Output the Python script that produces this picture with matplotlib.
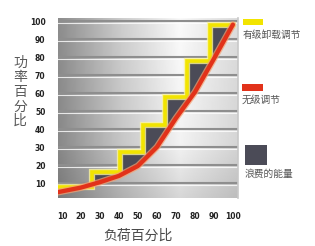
import numpy as np
import matplotlib
matplotlib.use("Agg")
import matplotlib.pyplot as plt
import matplotlib.patheffects as pe
from matplotlib.patches import Rectangle

plt.rcParams['font.family'] = ['Noto Sans CJK SC', 'DejaVu Sans']

# step (load/unload) regulation: step edges and levels
step_x = [8, 26, 40.5, 52.5, 64, 76, 88, 100]
step_y = [8, 16, 27, 42, 58, 78, 98]

# stepless regulation curve
load = [8, 20, 30, 40, 50, 60, 70, 80, 90, 100]
power = [5, 7.5, 10.5, 14, 19.5, 30, 46, 60.5, 79, 98]

ticks = [10, 20, 30, 40, 50, 60, 70, 80, 90, 100]
legend_labels = ["有级卸载调节", "无级调节", "浪费的能量"]

YELLOW = "#f2e400"
RED = "#e2321a"
WASTE = "#4b4b57"

fig = plt.figure(figsize=(3.15, 2.46), dpi=100)
ax = fig.add_axes([0.184, 0.195, 0.571, 0.732])
xlim = (7.9, 102.6)
ylim = (1.7, 101.7)

# gradient background
gx = np.linspace(0, 1, 200)
horiz = np.interp(gx, [0, 0.35, 0.68, 1.0], [0.55, 0.8, 0.98, 0.86])
gy = np.linspace(0, 1, 120)[:, None]
vert = np.interp(gy, [0, 0.3, 1.0], [0.86, 0.97, 1.0])
bg = np.clip(horiz[None, :] * vert, 0, 1)
ax.imshow(bg, extent=[xlim[0], xlim[1], ylim[0], ylim[1]], origin="lower",
          aspect="auto", cmap="gray", vmin=0, vmax=1, zorder=0)

# grid lines with a light highlight underneath
for t in ticks:
    ax.axhline(t, color="#8e8e8e", lw=1.5, zorder=1)
    ax.axhline(t - 1.0, color="white", lw=0.8, alpha=0.8, zorder=1)

# wasted energy area between the staircase and the curve
sx, sy = [], []
for i in range(len(step_y)):
    sx += [step_x[i], step_x[i + 1]]
    sy += [step_y[i], step_y[i]]
poly_x = sx + load[::-1]
poly_y = sy + power[::-1]
ax.fill(poly_x, poly_y, color=WASTE, zorder=2, lw=0)

ax.step(step_x, step_y + [step_y[-1]], where="post", color=YELLOW, lw=2.6, zorder=3,
        solid_joinstyle="miter",
        path_effects=[pe.Stroke(linewidth=4.5, foreground="#fbf49a", alpha=0.8), pe.Normal()])
ax.plot(load, power, color=RED, lw=3.1, zorder=4, solid_capstyle="round",
        path_effects=[pe.Stroke(linewidth=4.9, foreground="#f6a070", alpha=0.7), pe.Normal()])

ax.set_xlim(*xlim)
ax.set_ylim(*ylim)
ax.set_xticks(ticks)
ax.set_yticks(ticks)
ax.set_xticklabels([str(t) for t in ticks], fontsize=5.5, fontweight="bold",
                   family="DejaVu Sans", color="#222222")
ax.set_yticklabels([str(t) for t in ticks], fontsize=5.5, fontweight="bold",
                   family="DejaVu Sans", color="#222222")
ax.tick_params(axis="y", length=0, pad=9)
ax.tick_params(axis="x", length=0, pad=10)
for side in ["top", "left", "bottom"]:
    ax.spines[side].set_visible(False)
ax.spines["right"].set_color("#c8c8c8")
ax.spines["right"].set_linewidth(1.2)

fig.text(138 / 315, 1 - 236 / 246, "负荷百分比", ha="center", va="center",
         fontsize=10, color="#4a4a4a")
fig.text(20 / 315, 1 - 92 / 246, "功\n率\n百\n分\n比", ha="center", va="center",
         fontsize=10, color="#5a5a5a", linespacing=1.05)

# legend
swatches = [
    (243, 19, 20, 6, YELLOW, 35),
    (242, 84, 21, 7, RED, 100),
    (245, 145, 22, 20, WASTE, 174),
]
for (x0, y0, w, h, c, ty), lab in zip(swatches, legend_labels):
    fig.add_artist(Rectangle((x0 / 315, 1 - (y0 + h) / 246), w / 315, h / 246,
                             facecolor=c, edgecolor="none", transform=fig.transFigure))
    fig.text(x0 / 315, 1 - ty / 246, lab, ha="left", va="center", fontsize=7,
             color="#555555")

fig.savefig("out.png", dpi=100)
